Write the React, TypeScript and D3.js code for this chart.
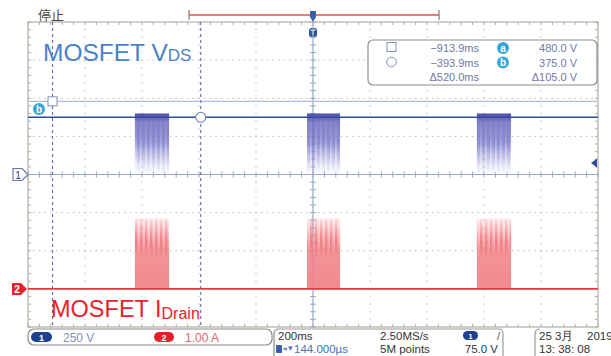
import React from "react";
import * as d3 from "d3";

// ---- data ----
const timeDomainMs = [-1000, 1000];
const voltDomain = [-1000, 1000]; // ch1, 250 V/div, 8 div
const ampDomain = [-1, 7]; // ch2, 1 A/div, ground offset -3 div
const gridTimesMs = d3.range(-1000, 1001, 200);
const gridVolts = d3.range(-1000, 1001, 250);
const burstStartMs = [-625, -21, 575];
const burstEndMs = [-505, 95, 695];
const ch1DcVolts = 375;
const ch1BurstPeakVolts = 400;
const ch1BurstLowVolts = 12;
const ch2BurstPeakAmps = 1.85;
const cursorTimesMs = [-913.9, -393.9];
const cursorVolts = [480, 375];
const triggerLevelVolts = 75;
const measureTimeLabels = ["\u2212913.9ms", "\u2212393.9ms", "\u0394520.0ms"];
const measureVoltLabels = ["480.0 V", "375.0 V", "\u0394105.0 V"];

const W = 611, H = 356;
const L = 28, R = 598, T = 22, B = 327;
const FONT = "'Liberation Sans', Arial, sans-serif";

export default function App() {
  const x = d3.scaleLinear().domain(timeDomainMs).range([L, R]);
  const yV = d3.scaleLinear().domain(voltDomain).range([B, T]);
  const yI = d3.scaleLinear().domain(ampDomain).range([B, T]);
  const cx = x(0);
  const cy = yV(0);
  const minorX = (R - L) / 50;
  const minorY = (B - T) / 40;

  const line = d3.line<[number, number]>().x((d) => d[0]).y((d) => d[1]);

  const xTicks = d3.range(L, R + 0.1, minorX);
  const yTicks = d3.range(T, B + 0.1, minorY);

  const grey = "#bdbdbd";
  const border = "#b3ada3";
  const axisCol = "#9aa6c4";

  const b1Top = yV(ch1BurstPeakVolts), b1Bot = yV(ch1BurstLowVolts);
  const b2Top = yI(ch2BurstPeakAmps), b2Bot = yI(0);

  return (
    <svg
      width={W}
      height={H}
      style={{ position: "absolute", left: 0, top: 0, background: "#fff" }}
      fontFamily={FONT}
    >
      <defs>
        <linearGradient id="gB" x1="0" y1="0" x2="0" y2="1">
          <stop offset="0" stopColor="#4444a4" stopOpacity="0.95" />
          <stop offset="0.08" stopColor="#5656b4" stopOpacity="0.9" />
          <stop offset="0.15" stopColor="#6a6ac0" stopOpacity="0.85" />
          <stop offset="0.5" stopColor="#7070c6" stopOpacity="0.8" />
          <stop offset="0.75" stopColor="#8a8ad2" stopOpacity="0.5" />
          <stop offset="1" stopColor="#b0b0e4" stopOpacity="0.12" />
        </linearGradient>
        <linearGradient id="gR" x1="0" y1="0" x2="0" y2="1">
          <stop offset="0" stopColor="#f49a9e" stopOpacity="0.15" />
          <stop offset="0.25" stopColor="#f28b90" stopOpacity="0.55" />
          <stop offset="0.45" stopColor="#f08287" stopOpacity="0.85" />
          <stop offset="1" stopColor="#ef7f85" stopOpacity="0.92" />
        </linearGradient>
        <pattern id="stB" width="5" height="10" patternUnits="userSpaceOnUse">
          <rect x="0" y="0" width="1.8" height="10" fill="#ffffff" />
        </pattern>
        <pattern id="stR" width="5" height="10" patternUnits="userSpaceOnUse">
          <rect x="0" y="0" width="2.4" height="10" fill="#ee6c74" opacity="0.9" />
        </pattern>
        <linearGradient id="fadeB" x1="0" y1="0" x2="0" y2="1">
          <stop offset="0" stopColor="#fff" stopOpacity="0" />
          <stop offset="0.35" stopColor="#fff" stopOpacity="0.12" />
          <stop offset="0.7" stopColor="#fff" stopOpacity="0.4" />
          <stop offset="1" stopColor="#fff" stopOpacity="0.55" />
        </linearGradient>
        <linearGradient id="fadeR" x1="0" y1="0" x2="0" y2="1">
          <stop offset="0" stopColor="#fff" stopOpacity="0.1" />
          <stop offset="0.6" stopColor="#fff" stopOpacity="0.8" />
          <stop offset="1" stopColor="#fff" stopOpacity="0" />
        </linearGradient>
        <mask id="mB" maskUnits="userSpaceOnUse" x={L} y={b1Top} width={R - L} height={b1Bot - b1Top}>
          <rect x={L} y={b1Top} width={R - L} height={b1Bot - b1Top} fill="url(#fadeB)" />
        </mask>
        <mask id="mR" maskUnits="userSpaceOnUse" x={L} y={b2Top} width={R - L} height={40}>
          <rect x={L} y={b2Top} width={R - L} height={40} fill="url(#fadeR)" />
        </mask>
      </defs>

      {/* header */}
      <text x={38} y={20} fontSize={13} fill="#444" fontFamily="'Noto Sans CJK SC', sans-serif">停止</text>
      <line x1={189} x2={439} y1={15} y2={15} stroke="#f07a7a" strokeWidth={2} />
      <line x1={189} x2={189} y1={10} y2={20} stroke="#666" strokeWidth={1} />
      <line x1={439} x2={439} y1={10} y2={20} stroke="#666" strokeWidth={1} />
      {/* trigger position marker */}
      <path d={`M${cx - 3},11 h6 v6 l-3,5 l-3,-5 z`} fill="#3a5fa8" />
      <rect x={cx - 4} y={28} width={8} height={9} rx={2.5} fill="#2a55a0" />
      <text x={cx} y={35} fontSize={7} fill="#fff" textAnchor="middle" fontWeight="bold">T</text>

      {/* dotted graticule */}
      {gridTimesMs.filter((t) => t !== 0 && Math.abs(t) !== 1000).map((t) => (
        <line key={"gx" + t} x1={x(t)} x2={x(t)} y1={T} y2={B} stroke={grey} strokeWidth={1}
          strokeDasharray={`1.6,${minorY - 1.6}`} strokeDashoffset={0.8} />
      ))}
      {gridVolts.filter((v) => v !== 0 && Math.abs(v) !== 1000).map((v) => (
        <line key={"gy" + v} x1={L} x2={R} y1={yV(v)} y2={yV(v)} stroke={grey} strokeWidth={1}
          strokeDasharray={`1.6,${minorX / 2 - 1.6}`} strokeDashoffset={0.8} />
      ))}

      {/* border */}
      <rect x={L} y={T} width={R - L} height={B - T} fill="none" stroke={border} strokeWidth={1.2} />
      {xTicks.map((xx, i) => (
        <g key={"bt" + i}>
          <line x1={xx} x2={xx} y1={T} y2={T + 3} stroke={border} />
          <line x1={xx} x2={xx} y1={B - 3} y2={B} stroke={border} />
        </g>
      ))}
      {yTicks.map((yy, i) => (
        <g key={"bl" + i}>
          <line x1={L} x2={L + 3} y1={yy} y2={yy} stroke={border} />
          <line x1={R - 3} x2={R} y1={yy} y2={yy} stroke={border} />
        </g>
      ))}

      {/* center axes */}
      <line x1={L} x2={R} y1={cy} y2={cy} stroke={axisCol} strokeWidth={1.2} />
      <line x1={cx} x2={cx} y1={T} y2={B} stroke={axisCol} strokeWidth={1.2} />
      {xTicks.map((xx, i) => (
        <line key={"cxT" + i} x1={xx} x2={xx} y1={cy - 3} y2={cy + 3} stroke={axisCol} />
      ))}
      {yTicks.map((yy, i) => (
        <line key={"cyT" + i} x1={cx - 3} x2={cx + 3} y1={yy} y2={yy} stroke={axisCol} />
      ))}

      {/* cursor a horizontal line */}
      <line x1={L} x2={R} y1={yV(cursorVolts[0])} y2={yV(cursorVolts[0])} stroke="#a9c0df" strokeWidth={1.2} />

      {/* ch1 bursts */}
      {burstStartMs.map((s, i) => {
        const x0 = x(s), x1 = x(burstEndMs[i]);
        return (
          <g key={"b1" + i}>
            <rect x={x0} y={b1Top} width={x1 - x0} height={b1Bot - b1Top} fill="url(#gB)" />
            <rect x={x0} y={b1Top} width={x1 - x0} height={b1Bot - b1Top} fill="url(#stB)" mask="url(#mB)" />
          </g>
        );
      })}
      {/* ch2 bursts */}
      {burstStartMs.map((s, i) => {
        const x0 = x(s), x1 = x(burstEndMs[i]);
        return (
          <g key={"b2" + i}>
            <rect x={x0} y={b2Top} width={x1 - x0} height={b2Bot - b2Top} fill="url(#gR)" />
            <rect x={x0} y={b2Top} width={x1 - x0} height={40} fill="url(#stR)" mask="url(#mR)" />
          </g>
        );
      })}

      {/* traces */}
      <path d={line([[x(timeDomainMs[0]), yV(ch1DcVolts)], [x(timeDomainMs[1]), yV(ch1DcVolts)]]) || ""}
        stroke="#2c4c9c" strokeWidth={1.6} fill="none" />
      <path d={line([[x(timeDomainMs[0]), yI(0)], [x(timeDomainMs[1]), yI(0)]]) || ""}
        stroke="#e23a3a" strokeWidth={1.6} fill="none" />

      {/* vertical cursors */}
      {cursorTimesMs.map((t, i) => (
        <line key={"vc" + i} x1={x(t)} x2={x(t)} y1={T} y2={B} stroke="#5d6f9e" strokeWidth={1.1} strokeDasharray="3,3" />
      ))}
      <rect x={x(cursorTimesMs[0]) - 4.5} y={yV(cursorVolts[0]) - 4.5} width={9} height={9} fill="#fff" stroke="#7f8fb5" strokeWidth={1} />
      <circle cx={x(cursorTimesMs[1])} cy={yV(cursorVolts[1])} r={5} fill="#fff" stroke="#6d7fb0" strokeWidth={1.1} />

      {/* cursor b badge */}
      <circle cx={39} cy={109} r={6} fill="#35a6dc" />
      <text x={39} y={112.5} fontSize={10} fontWeight="bold" fill="#fff" textAnchor="middle">b</text>

      {/* channel markers */}
      <path d={`M13,${cy - 6} h9 l6,6 l-6,6 h-9 z`} fill="#fff" stroke="#6878a8" strokeWidth={1.2} />
      <text x={18} y={cy + 4} fontSize={10} fill="#2a3f80" textAnchor="middle">1</text>
      <path d={`M12,${yI(0) - 6} h9 l6,6 l-6,6 h-9 z`} fill="#e0262e" />
      <text x={17} y={yI(0) + 4} fontSize={10} fontWeight="bold" fill="#fff" textAnchor="middle">2</text>

      {/* trigger level marker */}
      <path d={`M591,${yV(triggerLevelVolts)} l6,-4.5 v9 z`} fill="#2c4c9c" />

      {/* titles */}
      <text x={43} y={61} fontSize={24.5} fill="#4a82c6">
        MOSFET V<tspan fontSize={17}>DS</tspan>
      </text>
      <text x={51} y={317} fontSize={23.5} fill="#e8222c">
        MOSFET I<tspan fontSize={16} dy={2}>Drain</tspan>
      </text>

      {/* measurement box */}
      <rect x={368} y={40} width={229} height={45} rx={5} fill="#fff" stroke="#8c8c8c" strokeWidth={1.2} />
      <rect x={387} y={42.5} width={9} height={9} fill="none" stroke="#7f8fb5" strokeWidth={1} />
      <circle cx={391.5} cy={62} r={4.8} fill="none" stroke="#7f8fb5" strokeWidth={1} />
      {measureTimeLabels.map((s, i) => (
        <text key={"mt" + i} x={479} y={52 + i * 14.5} fontSize={11} fill="#6d7aa6" textAnchor="end">{s}</text>
      ))}
      {["a", "b"].map((s, i) => (
        <g key={"mb" + i}>
          <circle cx={503} cy={48 + i * 14.5} r={6} fill="#35a6dc" />
          <text x={503} y={51.5 + i * 14.5} fontSize={10} fontWeight="bold" fill="#fff" textAnchor="middle">{s}</text>
        </g>
      ))}
      {measureVoltLabels.map((s, i) => (
        <text key={"mv" + i} x={577} y={52 + i * 14.5} fontSize={11} fill="#6d7aa6" textAnchor="end">{s}</text>
      ))}

      {/* status bar */}
      <rect x={28} y={329} width={244} height={16} rx={6} fill="#fff" stroke="#8a8a8a" strokeWidth={1.2} />
      <rect x={31} y={332} width={21} height={10} rx={5} fill="#1f3f8f" />
      <text x={41.5} y={340.5} fontSize={9} fontWeight="bold" fill="#fff" textAnchor="middle">1</text>
      <text x={63} y={341.5} fontSize={12} fill="#8290b8">250 V</text>
      <rect x={154} y={332} width={20} height={10} rx={5} fill="#e0202a" />
      <text x={164} y={340.5} fontSize={9} fontWeight="bold" fill="#fff" textAnchor="middle">2</text>
      <text x={185} y={341.5} fontSize={12} fill="#e86470">1.00 A</text>

      <path d="M279,329 Q274,329 274,334 V356" fill="none" stroke="#8a8a8a" strokeWidth={1.2} />
      <path d="M279,329 H498 Q503,329 503,334 V356" fill="none" stroke="#9a9a9a" strokeWidth={1.2} />
      <text x={278} y={340} fontSize={11.5} fill="#333">200ms</text>
      <rect x={276} y={345} width={6} height={8} rx={1} fill="#3a5fa8" />
      <line x1={283} x2={286} y1={349} y2={349} stroke="#4a6fb5" strokeWidth={1.2} />
      <path d="M285.5,347 l2,2 l-2,2 z" fill="#4a6fb5" />
      <path d="M288,346.5 h5 l-2.5,4 z" fill="#4a6fb5" />
      <text x={294} y={353} fontSize={11.5} fill="#4a6fb5">144.000µs</text>
      <text x={380} y={340} fontSize={11.5} fill="#333">2.50MS/s</text>
      <text x={380} y={353} fontSize={11.5} fill="#333">5M points</text>
      <rect x={463} y={331} width={15} height={9} rx={4.5} fill="#1f3f8f" />
      <text x={470.5} y={338.5} fontSize={8} fontWeight="bold" fill="#fff" textAnchor="middle">1</text>
      <text x={497} y={340} fontSize={11} fill="#555">/</text>
      <text x={498} y={353} fontSize={11.5} fill="#333" textAnchor="end">75.0 V</text>

      <path d="M540,329 Q535,329 535,334 V356" fill="none" stroke="#9a9a9a" strokeWidth={1.2} />
      <text x={539} y={340} fontSize={11.5} fill="#333">25 3月</text>
      <text x={587} y={340} fontSize={11.5} fill="#333">2019</text>
      <text x={539} y={353} fontSize={11.5} fill="#333">13: 38: 08</text>
    </svg>
  );
}
